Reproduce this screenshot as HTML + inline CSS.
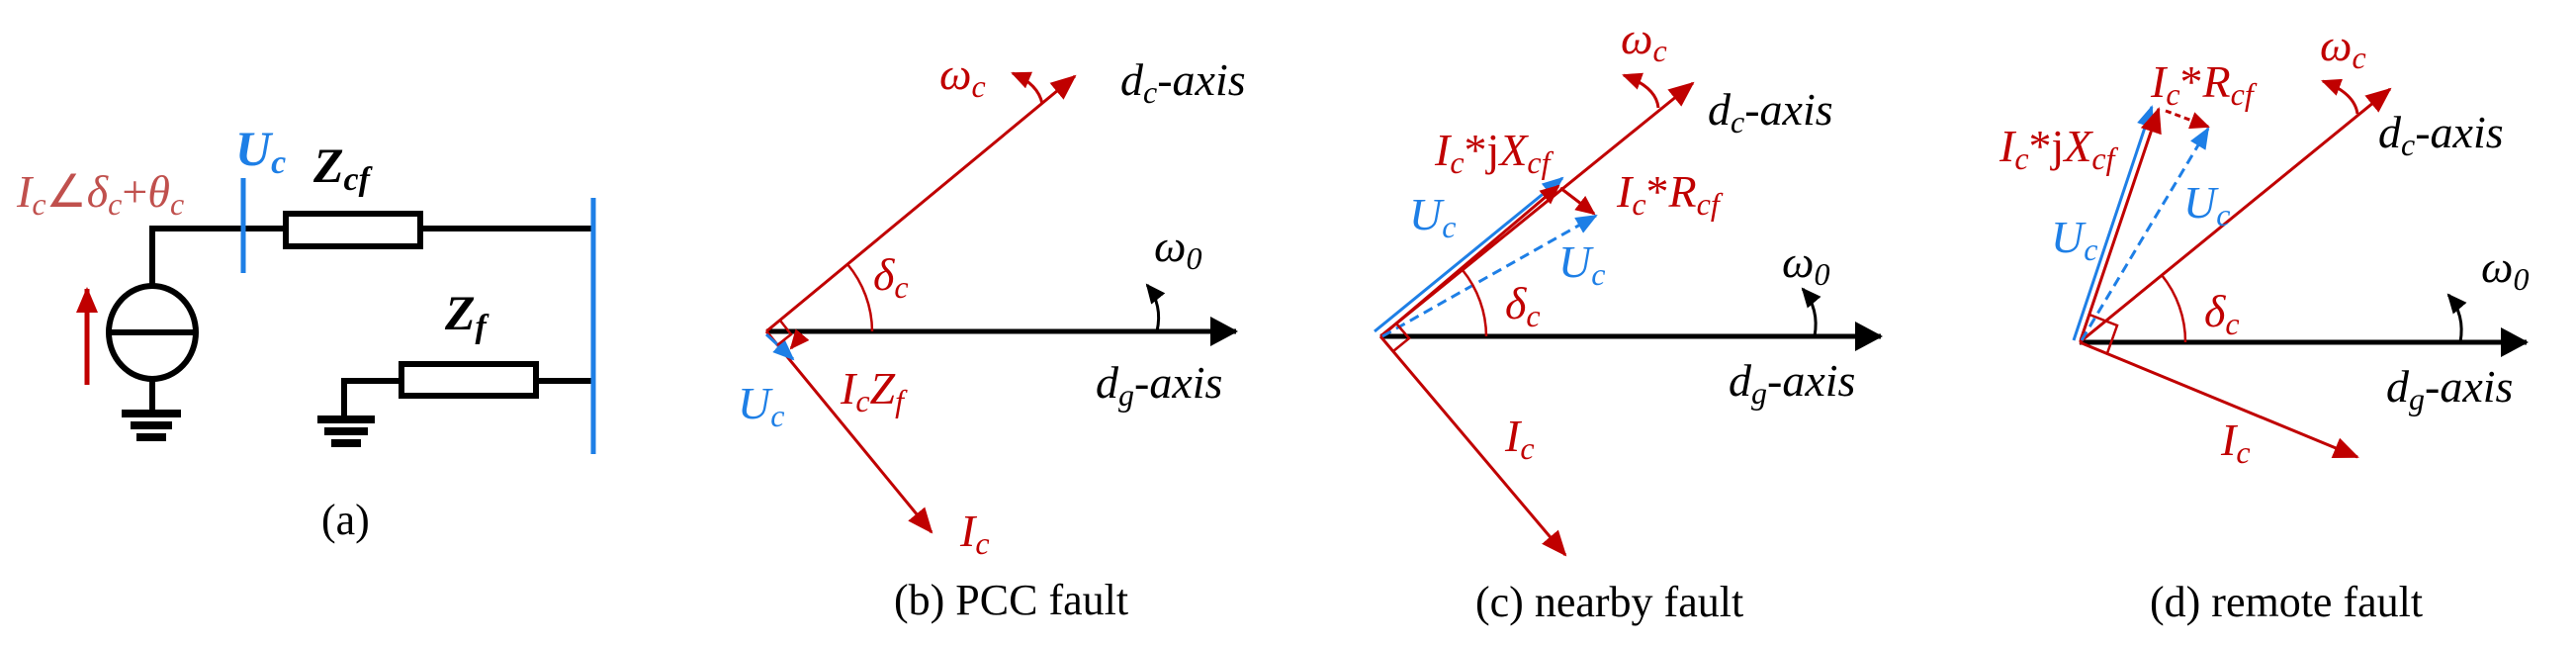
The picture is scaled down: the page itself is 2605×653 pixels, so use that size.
<!DOCTYPE html>
<html><head><meta charset="utf-8"><style>
html,body{margin:0;padding:0;background:#fff}
svg{display:block}
svg text{font-family:"Liberation Serif","Times New Roman",serif}
.it{font-style:italic}
</style></head><body>
<svg width="2605" height="653" viewBox="0 0 2605 653" xmlns="http://www.w3.org/2000/svg" font-family="Liberation Serif, serif">
<defs>
<marker id="ar" markerUnits="userSpaceOnUse" markerWidth="26" markerHeight="22" refX="24" refY="11" orient="auto"><path d="M0,0 L26,11 L0,22 z" fill="#c00000"/></marker>
<marker id="ars" markerUnits="userSpaceOnUse" markerWidth="20" markerHeight="18" refX="18" refY="9" orient="auto"><path d="M0,0 L20,9 L0,18 z" fill="#c00000"/></marker>
<marker id="ab" markerUnits="userSpaceOnUse" markerWidth="22" markerHeight="18" refX="20" refY="9" orient="auto"><path d="M0,0 L22,9 L0,18 z" fill="#1e7fe6"/></marker>
<marker id="ak" markerUnits="userSpaceOnUse" markerWidth="28" markerHeight="30" refX="26" refY="15" orient="auto"><path d="M0,0 L28,15 L0,30 z" fill="#000"/></marker>
<marker id="aks" markerUnits="userSpaceOnUse" markerWidth="20" markerHeight="18" refX="18" refY="9" orient="auto"><path d="M0,0 L20,9 L0,18 z" fill="#000"/></marker>
</defs>

<!-- (a) circuit -->
<g stroke="#000" stroke-width="6" fill="none">
<polyline points="154,289 154,231 289,231"/>
<line x1="425" y1="231" x2="600" y2="231"/>
<rect x="289" y="216" width="136" height="33" fill="#fff"/>
<polyline points="348,423 348,385 406,385"/>
<line x1="542" y1="385" x2="600" y2="385"/>
<rect x="406" y="368" width="136" height="32" fill="#fff"/>
<ellipse cx="154" cy="336" rx="44" ry="47"/>
<line x1="110" y1="336" x2="198" y2="336"/>
<line x1="154" y1="383" x2="154" y2="418"/>
</g>
<g fill="#000">
<rect x="123" y="414" width="60" height="8"/><rect x="132" y="426" width="42" height="8"/><rect x="138" y="438" width="30" height="8"/>
<rect x="321" y="420" width="58" height="8"/><rect x="328" y="432" width="44" height="8"/><rect x="335" y="444" width="30" height="8"/>
</g>
<line x1="246" y1="180" x2="246" y2="276" stroke="#1e7fe6" stroke-width="5"/>
<line x1="600" y1="200" x2="600" y2="459" stroke="#1e7fe6" stroke-width="5"/>
<line x1="88" y1="389" x2="88" y2="292" stroke="#c00000" stroke-width="5" marker-end="url(#ar)"/>
<text x="17" y="209" font-size="46" fill="#c0504d" class="it">I<tspan font-size="32" dy="8">c</tspan><tspan dy="-8" font-style="normal">∠</tspan>δ<tspan font-size="32" dy="8">c</tspan><tspan dy="-8" font-style="normal">+</tspan>θ<tspan font-size="32" dy="8">c</tspan></text>
<text x="238" y="167" font-size="50" fill="#1e7fe6" font-weight="bold" class="it">U<tspan font-size="34" dy="8">c</tspan></text>
<text x="317" y="184" font-size="50" fill="#000" font-weight="bold" class="it">Z<tspan font-size="34" dy="8">cf</tspan></text>
<text x="450" y="333" font-size="50" fill="#000" font-weight="bold" class="it">Z<tspan font-size="34" dy="8">f</tspan></text>
<text x="325" y="540" font-size="44">(a)</text>

<!-- (b) -->
<line x1="775" y1="335" x2="1250" y2="335" stroke="#000" stroke-width="5" marker-end="url(#ak)"/>
<line x1="775" y1="335" x2="1087" y2="77" stroke="#c00000" stroke-width="3" marker-end="url(#ar)"/>
<line x1="775" y1="335" x2="942" y2="538" stroke="#c00000" stroke-width="3" marker-end="url(#ar)"/>
<line x1="775" y1="338" x2="802" y2="363" stroke="#1e7fe6" stroke-width="3" marker-end="url(#ab)"/>
<line x1="810" y1="340" x2="800" y2="352" stroke="#c00000" stroke-width="3" marker-end="url(#ars)"/>
<path d="M882,335 A107,107 0 0 0 857,267" stroke="#c00000" stroke-width="2.5" fill="none"/>
<polyline points="789,324 800,338 786,349" stroke="#c00000" stroke-width="2.5" fill="none"/>
<path d="M1054,105 Q1050,85 1024,74" stroke="#c00000" stroke-width="3" fill="none" marker-end="url(#ars)"/>
<path d="M1170,335 Q1176,308 1160,288" stroke="#000" stroke-width="3" fill="none" marker-end="url(#aks)"/>
<text x="950" y="90" font-size="46" fill="#c00000" class="it">ω<tspan font-size="32" dy="8">c</tspan></text>
<text x="1133" y="96" font-size="46" fill="#000" class="it">d<tspan font-size="32" dy="8">c</tspan><tspan dy="-8">-axis</tspan></text>
<text x="1167" y="264" font-size="46" fill="#000" class="it">ω<tspan font-size="32" dy="8">0</tspan></text>
<text x="883" y="293" font-size="46" fill="#c00000" class="it">δ<tspan font-size="32" dy="8">c</tspan></text>
<text x="1108" y="402" font-size="46" fill="#000" class="it">d<tspan font-size="32" dy="8">g</tspan><tspan dy="-8">-axis</tspan></text>
<text x="746" y="423" font-size="46" fill="#1e7fe6" class="it">U<tspan font-size="32" dy="8">c</tspan></text>
<text x="850" y="408" font-size="46" fill="#c00000" class="it">I<tspan font-size="32" dy="8">c</tspan><tspan dy="-8">Z</tspan><tspan font-size="32" dy="8">f</tspan></text>
<text x="971" y="552" font-size="46" fill="#c00000" class="it">I<tspan font-size="32" dy="8">c</tspan></text>
<text x="904" y="621" font-size="44">(b) PCC fault</text>

<!-- (c) -->
<line x1="1396" y1="340" x2="1902" y2="340" stroke="#000" stroke-width="5" marker-end="url(#ak)"/>
<line x1="1396" y1="340" x2="1712" y2="84" stroke="#c00000" stroke-width="3" marker-end="url(#ar)"/>
<line x1="1396" y1="340" x2="1583" y2="561" stroke="#c00000" stroke-width="3" marker-end="url(#ar)"/>
<line x1="1390" y1="335" x2="1580" y2="180" stroke="#1e7fe6" stroke-width="3" marker-end="url(#ab)"/>
<line x1="1399" y1="338" x2="1576" y2="188" stroke="#c00000" stroke-width="3" marker-end="url(#ars)"/>
<line x1="1398" y1="340" x2="1614" y2="218" stroke="#1e7fe6" stroke-width="3" stroke-dasharray="10,6" marker-end="url(#ab)"/>
<line x1="1578" y1="190" x2="1612" y2="216" stroke="#c00000" stroke-width="3" marker-end="url(#ars)"/>
<path d="M1503,340 A107,107 0 0 0 1479,273" stroke="#c00000" stroke-width="2.5" fill="none"/>
<polyline points="1412,327 1425,342 1409,355" stroke="#c00000" stroke-width="2.5" fill="none"/>
<path d="M1677,109 Q1675,88 1642,76" stroke="#c00000" stroke-width="3" fill="none" marker-end="url(#ars)"/>
<path d="M1835,340 Q1840,312 1823,292" stroke="#000" stroke-width="3" fill="none" marker-end="url(#aks)"/>
<text x="1639" y="54" font-size="46" fill="#c00000" class="it">ω<tspan font-size="32" dy="8">c</tspan></text>
<text x="1727" y="126" font-size="46" fill="#000" class="it">d<tspan font-size="32" dy="8">c</tspan><tspan dy="-8">-axis</tspan></text>
<text x="1451" y="167" font-size="46" fill="#c00000" class="it">I<tspan font-size="32" dy="8">c</tspan><tspan dy="-8" font-style="normal">*j</tspan>X<tspan font-size="32" dy="8">cf</tspan></text>
<text x="1635" y="209" font-size="46" fill="#c00000" class="it">I<tspan font-size="32" dy="8">c</tspan><tspan dy="-8" font-style="normal">*</tspan>R<tspan font-size="32" dy="8">cf</tspan></text>
<text x="1425" y="232" font-size="46" fill="#1e7fe6" class="it">U<tspan font-size="32" dy="8">c</tspan></text>
<text x="1576" y="280" font-size="46" fill="#1e7fe6" class="it">U<tspan font-size="32" dy="8">c</tspan></text>
<text x="1522" y="322" font-size="46" fill="#c00000" class="it">δ<tspan font-size="32" dy="8">c</tspan></text>
<text x="1802" y="280" font-size="46" fill="#000" class="it">ω<tspan font-size="32" dy="8">0</tspan></text>
<text x="1748" y="400" font-size="46" fill="#000" class="it">d<tspan font-size="32" dy="8">g</tspan><tspan dy="-8">-axis</tspan></text>
<text x="1522" y="456" font-size="46" fill="#c00000" class="it">I<tspan font-size="32" dy="8">c</tspan></text>
<text x="1492" y="623" font-size="44">(c) nearby fault</text>

<!-- (d) -->
<line x1="2103" y1="346" x2="2555" y2="346" stroke="#000" stroke-width="5" marker-end="url(#ak)"/>
<line x1="2103" y1="346" x2="2417" y2="90" stroke="#c00000" stroke-width="3" marker-end="url(#ar)"/>
<line x1="2103" y1="346" x2="2384" y2="462" stroke="#c00000" stroke-width="3" marker-end="url(#ar)"/>
<line x1="2097" y1="344" x2="2176" y2="108" stroke="#1e7fe6" stroke-width="3" marker-end="url(#ab)"/>
<line x1="2104" y1="344" x2="2183" y2="110" stroke="#c00000" stroke-width="3" marker-end="url(#ar)"/>
<line x1="2105" y1="344" x2="2233" y2="130" stroke="#1e7fe6" stroke-width="3" stroke-dasharray="10,6" marker-end="url(#ab)"/>
<line x1="2190" y1="112" x2="2233" y2="128" stroke="#c00000" stroke-width="3" stroke-dasharray="6,4" marker-end="url(#ars)"/>
<path d="M2210,346 A107,107 0 0 0 2186,278" stroke="#c00000" stroke-width="2.5" fill="none"/>
<polyline points="2113,318 2141,329 2131,357" stroke="#c00000" stroke-width="2.5" fill="none"/>
<path d="M2384,115 Q2381,94 2349,82" stroke="#c00000" stroke-width="3" fill="none" marker-end="url(#ars)"/>
<path d="M2488,346 Q2493,318 2476,298" stroke="#000" stroke-width="3" fill="none" marker-end="url(#aks)"/>
<text x="2346" y="61" font-size="46" fill="#c00000" class="it">ω<tspan font-size="32" dy="8">c</tspan></text>
<text x="2175" y="98" font-size="46" fill="#c00000" class="it">I<tspan font-size="32" dy="8">c</tspan><tspan dy="-8" font-style="normal">*</tspan>R<tspan font-size="32" dy="8">cf</tspan></text>
<text x="2022" y="163" font-size="46" fill="#c00000" class="it">I<tspan font-size="32" dy="8">c</tspan><tspan dy="-8" font-style="normal">*j</tspan>X<tspan font-size="32" dy="8">cf</tspan></text>
<text x="2405" y="149" font-size="46" fill="#000" class="it">d<tspan font-size="32" dy="8">c</tspan><tspan dy="-8">-axis</tspan></text>
<text x="2208" y="220" font-size="46" fill="#1e7fe6" class="it">U<tspan font-size="32" dy="8">c</tspan></text>
<text x="2074" y="255" font-size="46" fill="#1e7fe6" class="it">U<tspan font-size="32" dy="8">c</tspan></text>
<text x="2229" y="330" font-size="46" fill="#c00000" class="it">δ<tspan font-size="32" dy="8">c</tspan></text>
<text x="2509" y="285" font-size="46" fill="#000" class="it">ω<tspan font-size="32" dy="8">0</tspan></text>
<text x="2413" y="406" font-size="46" fill="#000" class="it">d<tspan font-size="32" dy="8">g</tspan><tspan dy="-8">-axis</tspan></text>
<text x="2246" y="460" font-size="46" fill="#c00000" class="it">I<tspan font-size="32" dy="8">c</tspan></text>
<text x="2174" y="623" font-size="44">(d) remote fault</text>
</svg>
</body></html>
